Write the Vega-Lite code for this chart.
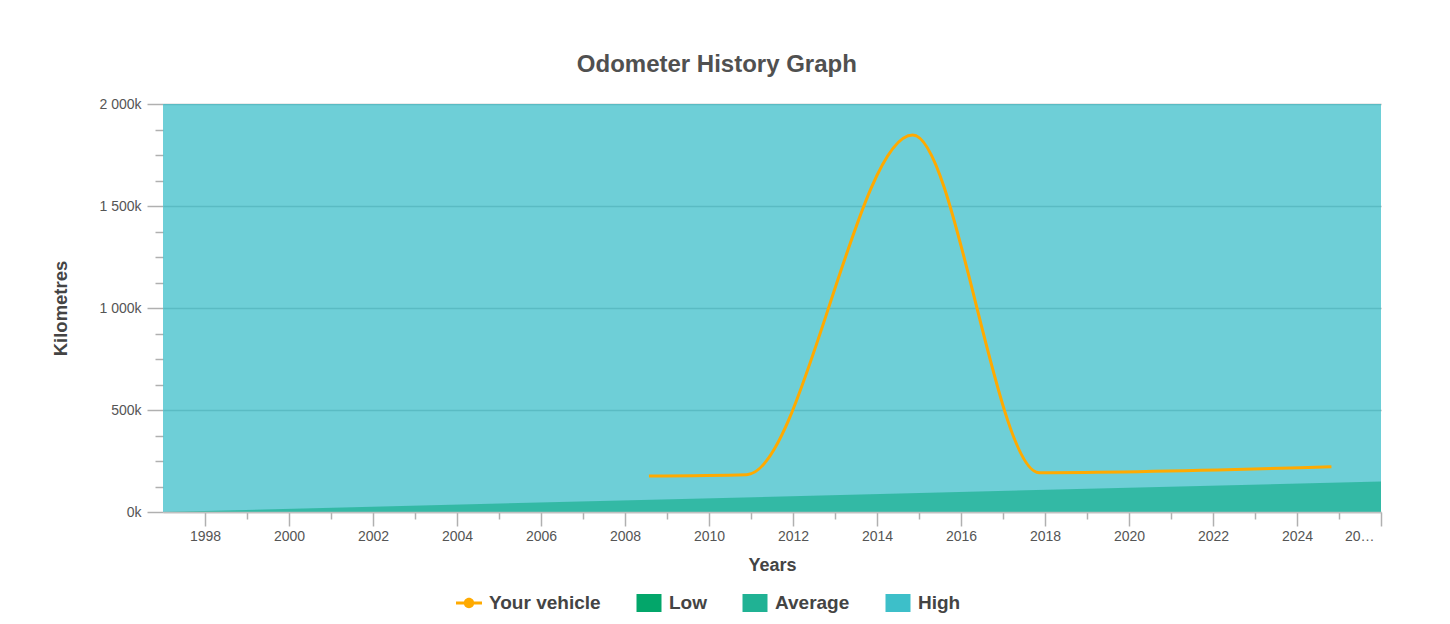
{
  "$schema": "https://vega.github.io/schema/vega-lite/v6.json",
  "width": 1218,
  "height": 408,
  "autosize": {"type": "none"},
  "padding": {"left": 163, "top": 104, "right": 69, "bottom": 112},
  "background": "white",
  "config": {"font": "Liberation Sans", "view": {"stroke": null}},
  "title": {
    "text": "Odometer History Graph",
    "fontSize": 24,
    "fontWeight": "bold",
    "color": "#505050",
    "anchor": "middle",
    "frame": "bounds",
    "baseline": "alphabetic",
    "offset": 1
  },
  "data": {
    "values": [
      {"series": "High", "year": 1997, "value": 2000000},
      {"series": "High", "year": 2026, "value": 2000000},
      {"series": "Average", "year": 1997, "value": 0},
      {"series": "Average", "year": 2026, "value": 150000},
      {"series": "Low", "year": 1997, "value": 0},
      {"series": "Low", "year": 2026, "value": 0},
      {"series": "Your vehicle", "year": 2008.57, "value": 176500},
      {"series": "Your vehicle", "year": 2010.9, "value": 183000},
      {"series": "Your vehicle", "year": 2014.85, "value": 1848000},
      {"series": "Your vehicle", "year": 2017.86, "value": 193000},
      {"series": "Your vehicle", "year": 2024.82, "value": 222000}
    ]
  },
  "encoding": {
    "x": {
      "field": "year",
      "type": "quantitative",
      "title": "Years",
      "scale": {"domain": [1997, 2026], "nice": false, "zero": false},
      "axis": {
        "zindex": 1,
        "values": [1998, 1999, 2000, 2001, 2002, 2003, 2004, 2005, 2006, 2007, 2008, 2009, 2010, 2011, 2012, 2013, 2014, 2015, 2016, 2017, 2018, 2019, 2020, 2021, 2022, 2023, 2024, 2025, 2026],
        "format": "d",
        "labelExpr": "datum.value % 2 === 0 ? (datum.value === 2026 ? '20…' : datum.label) : ''",
        "grid": false,
        "tickSize": {"condition": {"test": "datum.value % 2 === 0", "value": 14}, "value": 7},
        "tickColor": "#b0b0b0",
        "tickWidth": 1.5,
        "domainColor": "#c0c0c0",
        "domainWidth": 1.5,
        "labelFontSize": 14,
        "labelColor": "#555555",
        "labelPadding": 3,
        "labelOverlap": false,
        "labelFlush": false,
        "labelAlign": {"condition": {"test": "datum.value === 2026", "value": "right"}, "value": "center"},
        "labelOffset": {"condition": {"test": "datum.value === 2026", "value": -7}, "value": 0},
        "titleFontSize": 18,
        "titleFontWeight": "bold",
        "titleColor": "#444444",
        "titlePadding": 13
      }
    },
    "y": {
      "field": "value",
      "type": "quantitative",
      "title": "Kilometres",
      "scale": {"domain": [0, 2000000], "nice": false},
      "axis": {
        "zindex": 0,
        "values": [0, 125000, 250000, 375000, 500000, 625000, 750000, 875000, 1000000, 1125000, 1250000, 1375000, 1500000, 1625000, 1750000, 1875000, 2000000],
        "labelExpr": "datum.value % 500000 === 0 ? replace(format(datum.value / 1000, ','), ',', ' ') + 'k' : ''",
        "domain": false,
        "grid": true,
        "gridColor": "#b0b0b0",
        "gridWidth": 1.5,
        "gridOpacity": {"condition": {"test": "datum.value % 500000 === 0", "value": 1}, "value": 0},
        "tickSize": {"condition": {"test": "datum.value % 500000 === 0", "value": 16}, "value": 8},
        "tickColor": "#b0b0b0",
        "tickWidth": 1.5,
        "labelFontSize": 14,
        "labelColor": "#555555",
        "labelPadding": 6,
        "labelOverlap": false,
        "titleFontSize": 18.5,
        "titleFontWeight": "bold",
        "titleColor": "#444444",
        "titlePadding": 28
      }
    },
    "color": {
      "field": "series",
      "type": "nominal",
      "scale": {
        "domain": ["Your vehicle", "Low", "Average", "High"],
        "range": ["#ffaa00", "#03a66a", "#20b294", "#3dbfc9"]
      },
      "legend": {
        "orient": "none",
        "legendX": 296,
        "legendY": 489,
        "direction": "horizontal",
        "title": null,
        "labelFontSize": 19,
        "labelFontWeight": "bold",
        "labelColor": "#444444",
        "symbolSize": 400,
        "symbolOpacity": 1,
        "labelOffset": 10,
        "columnPadding": 35,
        "encode": {
          "symbols": {
            "update": {
              "shape": {"signal": "datum.value === 'Your vehicle' ? 'M-1.3,-0.15L-0.4,-0.15L-0.4,0.15L-1.3,0.15Z M0.4,-0.15L1.3,-0.15L1.3,0.15L0.4,0.15Z M0.52,0A0.52,0.52,0,1,1,-0.52,0A0.52,0.52,0,1,1,0.52,0Z' : 'M-1.25,-0.9L1.25,-0.9L1.25,0.9L-1.25,0.9Z'"},
              "fill": {"scale": "color", "field": "value"},
              "stroke": {"value": "transparent"},
              "strokeWidth": {"value": 0},
              "opacity": {"value": 1},
              "fillOpacity": {"value": 1}
            }
          }
        }
      }
    }
  },
  "layer": [
    {
      "transform": [{"filter": "datum.series === 'High'"}],
      "mark": {"type": "area", "opacity": 0.75}
    },
    {
      "transform": [{"filter": "datum.series === 'Average'"}],
      "mark": {"type": "area", "opacity": 0.75}
    },
    {
      "transform": [{"filter": "datum.series === 'Low'"}],
      "mark": {"type": "area", "opacity": 0.75}
    },
    {
      "transform": [{"filter": "datum.series === 'Your vehicle'"}],
      "mark": {"type": "line", "interpolate": "monotone", "strokeWidth": 3}
    }
  ]
}
